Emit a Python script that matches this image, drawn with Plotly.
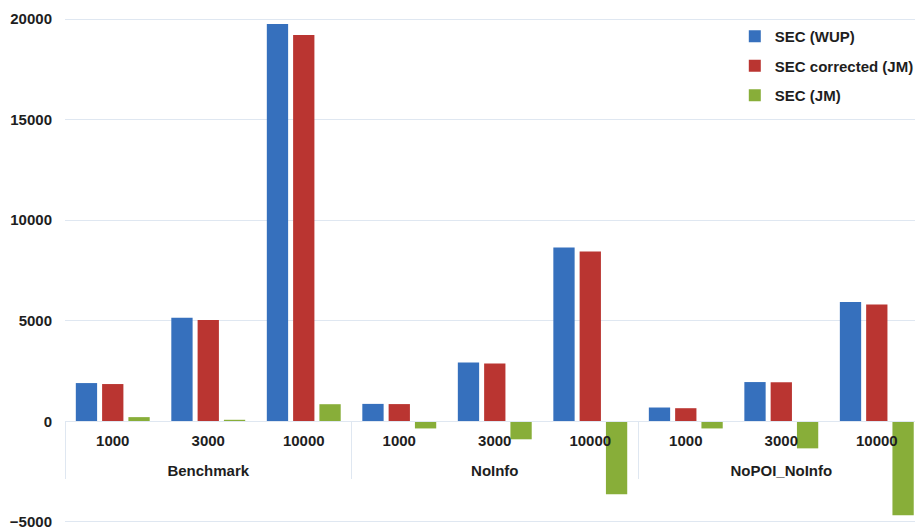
import plotly.graph_objects as go

groups = ["Benchmark"] * 3 + ["NoInfo"] * 3 + ["NoPOI_NoInfo"] * 3
sizes = ["1000", "3000", "10000"] * 3

sec_wup = [1905, 5150, 19750, 870, 2930, 8640, 690, 1955, 5940]
sec_corr = [1856, 5040, 19210, 860, 2880, 8440, 656, 1945, 5805]
sec_jm = [212, 80, 854, -350, -890, -3625, -350, -1340, -4670]

series = [
    ("SEC (WUP)", sec_wup, "#3670bd"),
    ("SEC corrected (JM)", sec_corr, "#ba3531"),
    ("SEC (JM)", sec_jm, "#88ae39"),
]

FONT = "Liberation Sans, Arial, sans-serif"

# inner labels get a tiny empty second line so the group labels sit lower
inner = [s + "<br><span style='font-size:2px'>\u00a0</span>" for s in sizes]

fig = go.Figure()
for name, vals, col in series:
    fig.add_trace(go.Bar(
        x=[groups, inner], y=vals, name=name,
        marker=dict(color=col, line=dict(width=0)),
        legendgroup=name,
    ))

fig.update_layout(
    width=915, height=530,
    margin=dict(l=65, r=0, t=18, b=7, autoexpand=False),
    paper_bgcolor="white", plot_bgcolor="white",
    barmode="group", bargap=0.174, bargroupgap=0.19,
    font=dict(family=FONT, size=15, color="#1e1e1e", weight="bold"),
    showlegend=True,
    legend=dict(
        x=0.788, y=0.996, xanchor="left", yanchor="top",
        bgcolor="rgba(0,0,0,0)", tracegroupgap=7,
        font=dict(family=FONT, size=15, color="#1e1e1e", weight="bold"),
        itemwidth=30,
    ),
)
fig.update_yaxes(
    range=[-5050, 20050], dtick=5000, tick0=0, tickformat="d",
    showgrid=True, gridcolor="#dfe7f1", gridwidth=1,
    zeroline=True, zerolinecolor="#dfe7f1", zerolinewidth=1,
    showline=False, ticks="", ticklabelstandoff=12,
    ticklabeloverflow="allow",
    tickfont=dict(family=FONT, size=15, color="#1e1e1e", weight="bold"),
    fixedrange=True,
)
fig.update_xaxes(
    type="multicategory", range=[-0.5, 8.4],
    anchor="free", position=5050 / 25100,
    showline=True, linecolor="#dfe7f1", linewidth=1,
    showgrid=False, ticks="", ticklabelstandoff=6,
    showdividers=True, dividercolor="#dfe7f1", dividerwidth=1,
    tickfont=dict(family=FONT, size=15, color="#1e1e1e", weight="bold"),
    fixedrange=True,
)

fig.write_html("out.html")
